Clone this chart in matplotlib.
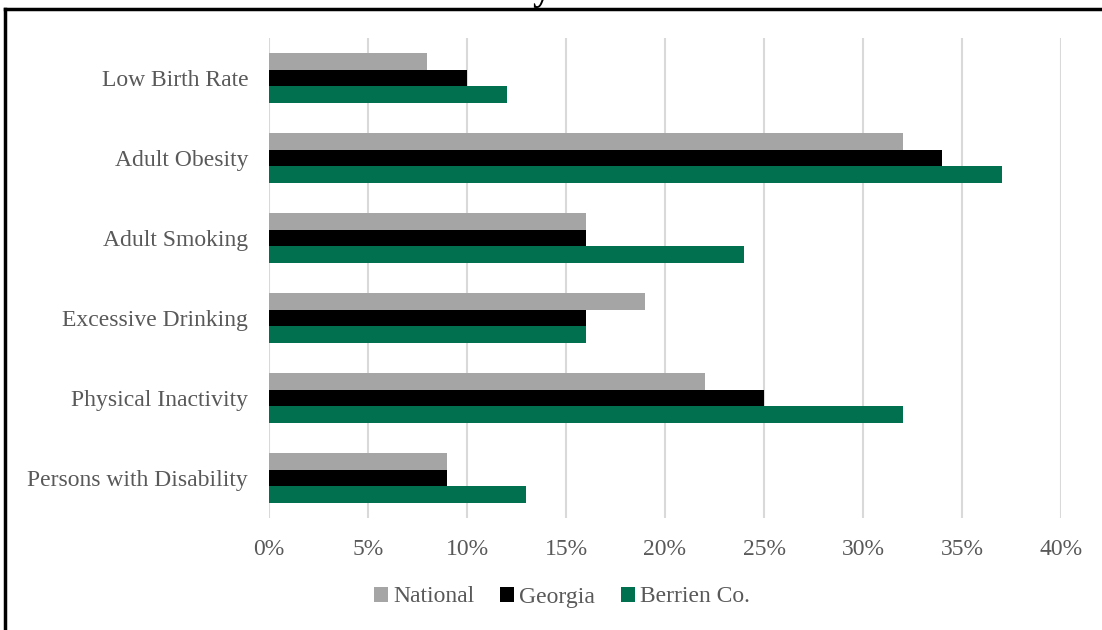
import matplotlib

matplotlib.use("Agg")
import matplotlib.pyplot as plt
import numpy as np
from matplotlib.lines import Line2D
from matplotlib.ticker import FuncFormatter

categories = [
    "Low Birth Rate",
    "Adult Obesity",
    "Adult Smoking",
    "Excessive Drinking",
    "Physical Inactivity",
    "Persons with Disability",
]
national = [8, 32, 16, 19, 22, 9]
georgia = [10, 34, 16, 16, 25, 9]
berrien = [12, 37, 24, 16, 32, 13]
series_labels = ["National", "Georgia", "Berrien Co."]
colors = ["#A5A5A5", "#000000", "#00704F"]
xticks = list(range(0, 45, 5))

plt.rcParams["font.family"] = ["Liberation Serif", "DejaVu Serif"]
text_color = "#595959"

fig = plt.figure(figsize=(11.02, 6.3), dpi=100)
ax = fig.add_axes([269 / 1102, 1 - 518 / 630, (1061 - 269) / 1102, (518 - 38) / 630])

y = np.arange(len(categories))
h = 0.21
for i, (vals, col, lab) in enumerate(zip([national, georgia, berrien], colors, series_labels)):
    ax.barh(y + (i - 1) * h, vals, height=h, color=col, label=lab, zorder=3)

ax.set_ylim(len(categories) - 0.5, -0.5)
ax.set_xlim(0, 40)
ax.set_xticks(xticks)
ax.xaxis.set_major_formatter(FuncFormatter(lambda v, _: f"{v:.0f}%"))
ax.set_yticks(y)
ax.set_yticklabels(categories)
ax.tick_params(axis="both", length=0, labelsize=17, colors=text_color)
ax.tick_params(axis="x", pad=15)
ax.tick_params(axis="y", pad=15)
ax.grid(True, axis="x", color="#D9D9D9", linewidth=1.5, zorder=0)
for s in ax.spines.values():
    s.set_visible(False)

fig.legend(
    loc="center",
    bbox_to_anchor=(562 / 1102, 1 - 597 / 630),
    ncol=3,
    frameon=False,
    fontsize=17,
    labelcolor=text_color,
    handlelength=0.6,
    handleheight=0.6,
    handletextpad=0.2,
    columnspacing=1.1,
)

# title runs off the top edge
fig.text(570 / 1102, 1 - 0.5 / 630, "Berrien County Health Behaviors", ha="center", va="baseline",
         fontsize=27, fontweight="bold", color="#000000")

# chart border (top and left)
fig.add_artist(Line2D([5 / 1102, 1], [1 - 9 / 630, 1 - 9 / 630], color="black", linewidth=2.5,
                      transform=fig.transFigure))
fig.add_artist(Line2D([5 / 1102, 5 / 1102], [0, 1 - 9 / 630], color="black", linewidth=2.5,
                      transform=fig.transFigure))

fig.savefig("out.png", dpi=100)
plt.close(fig)
